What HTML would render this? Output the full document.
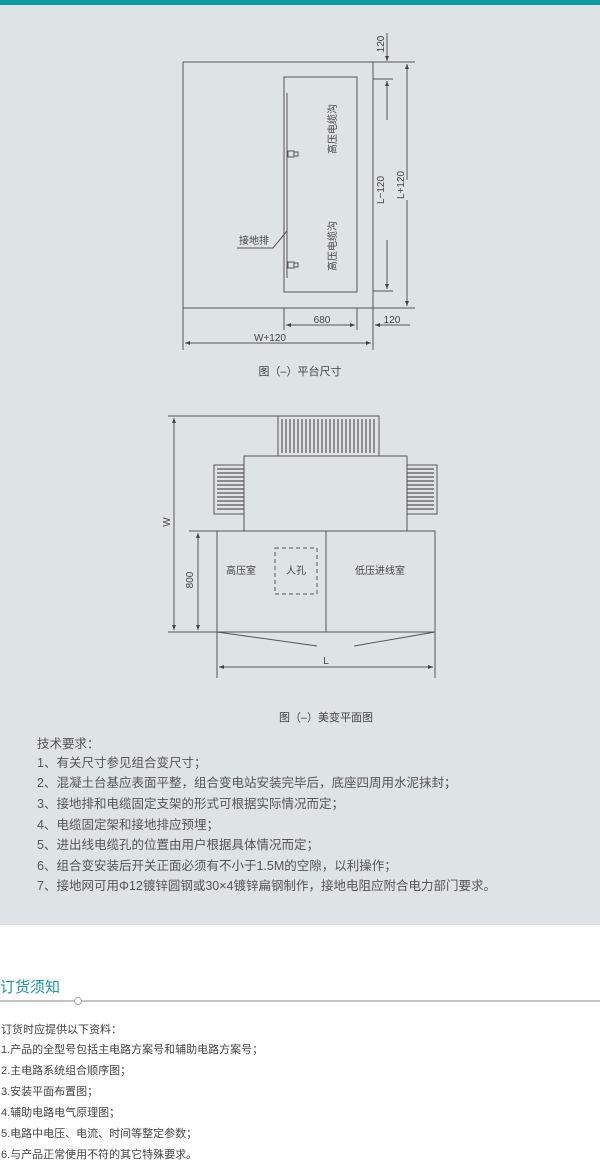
<!DOCTYPE html>
<html><head><meta charset="utf-8"><style>
html,body{margin:0;padding:0;background:#fff;}
body{width:600px;height:1159px;position:relative;overflow:hidden;font-family:"Liberation Sans","Noto Sans CJK SC",sans-serif;}
#panel{position:absolute;left:0;top:0;width:600px;height:925px;background:#dee3e6;}
#bar{position:absolute;left:0;top:0;width:600px;height:5px;background:#0e9aa0;}
.t{position:absolute;left:37px;font-size:12.5px;color:#555;white-space:nowrap;line-height:14px;}
.o{position:absolute;left:1px;font-size:11px;color:#444;white-space:nowrap;line-height:14px;}
</style></head><body>
<div id="panel"></div><div id="bar"></div>
<svg width="600" height="925" style="position:absolute;left:0;top:0" xmlns="http://www.w3.org/2000/svg">
<defs>
<marker id="a" markerWidth="6" markerHeight="6" refX="5" refY="3" orient="auto"><path d="M0,1 L5,3 L0,5z" fill="#444"/></marker>
</defs>
<g stroke="#555" stroke-width="1" fill="none">
<line x1="183" y1="62" x2="415" y2="62"/>
<line x1="183" y1="308" x2="415" y2="308"/>
<line x1="183" y1="62" x2="183" y2="350"/>
<line x1="373" y1="62" x2="373" y2="350"/>
<rect x="284" y="77" width="73" height="215"/>
<line x1="287" y1="93" x2="287" y2="278"/>
<rect x="288" y="151" width="6" height="6"/><rect x="294" y="152" width="4" height="4"/>
<rect x="288" y="262" width="6" height="6"/><rect x="294" y="263" width="4" height="4"/>
<line x1="373" y1="79" x2="393" y2="79"/>
<line x1="373" y1="291" x2="393" y2="291"/>
<line x1="387" y1="33" x2="387" y2="61" marker-end="url(#a)"/>
<line x1="387" y1="120" x2="387" y2="81" marker-end="url(#a)"/>
<line x1="387" y1="240" x2="387" y2="289" marker-end="url(#a)"/>
<line x1="407" y1="180" x2="407" y2="64" marker-end="url(#a)"/>
<line x1="407" y1="200" x2="407" y2="306" marker-end="url(#a)"/>
<line x1="284" y1="308" x2="284" y2="330"/>
<line x1="357" y1="308" x2="357" y2="330"/>
<line x1="320" y1="325" x2="286" y2="325" marker-end="url(#a)"/>
<line x1="320" y1="325" x2="355" y2="325" marker-end="url(#a)"/>
<line x1="410" y1="325" x2="375" y2="325" marker-end="url(#a)"/>
<line x1="270" y1="343" x2="185" y2="343" marker-end="url(#a)"/>
<line x1="270" y1="343" x2="371" y2="343" marker-end="url(#a)"/>
<polyline points="237,248 273,248 287,231"/>
<line x1="168" y1="416" x2="379" y2="416"/>
<rect x="278" y="416" width="101" height="40"/>
<rect x="244" y="456" width="163" height="75"/>
<rect x="214" y="465" width="30" height="49"/>
<rect x="407" y="465" width="30" height="49"/>
<rect x="217" y="531" width="218" height="101"/>
<line x1="326" y1="531" x2="326" y2="632"/>
<line x1="189" y1="531" x2="217" y2="531"/>
<line x1="168" y1="632" x2="217" y2="632"/>
<rect x="275" y="548" width="42" height="46" stroke-dasharray="4,3"/>
<line x1="174" y1="520" x2="174" y2="418" marker-end="url(#a)"/>
<line x1="174" y1="520" x2="174" y2="630" marker-end="url(#a)"/>
<line x1="198" y1="580" x2="198" y2="533" marker-end="url(#a)"/>
<line x1="198" y1="580" x2="198" y2="630" marker-end="url(#a)"/>
<line x1="217" y1="632" x2="217" y2="678"/>
<line x1="435" y1="632" x2="435" y2="678"/>
<line x1="217" y1="632" x2="317" y2="646"/>
<line x1="435" y1="632" x2="354" y2="646"/>
<line x1="326" y1="667" x2="219" y2="667" marker-end="url(#a)"/>
<line x1="326" y1="667" x2="433" y2="667" marker-end="url(#a)"/>
</g>
<g stroke="#555" stroke-width="1.2">
<path d="M282,419V453M286,419V453M290,419V453M294,419V453M298,419V453M302,419V453M306,419V453M310,419V453M314,419V453M318,419V453M322,419V453M326,419V453M330,419V453M334,419V453M338,419V453M342,419V453M346,419V453M350,419V453M354,419V453M358,419V453M362,419V453M366,419V453M370,419V453M374,419V453"/>
<path d="M217,469H244M217,473H244M217,477H244M217,481H244M217,485H244M217,489H244M217,493H244M217,497H244M217,501H244M217,505H244M217,509H244"/>
<path d="M407,469H434M407,473H434M407,477H434M407,481H434M407,485H434M407,489H434M407,493H434M407,497H434M407,501H434M407,505H434M407,509H434"/>
</g>
<g font-family="Liberation Sans, Noto Sans CJK SC, sans-serif" font-size="10" fill="#444">
<text transform="translate(336,129) rotate(-90)" text-anchor="middle">高压电缆沟</text>
<text transform="translate(336,246) rotate(-90)" text-anchor="middle">高压电缆沟</text>
<text transform="translate(384,190) rotate(-90)" text-anchor="middle">L−120</text>
<text transform="translate(404,185) rotate(-90)" text-anchor="middle">L+120</text>
<text transform="translate(384,44) rotate(-90)" text-anchor="middle">120</text>
<text x="322" y="323" text-anchor="middle">680</text>
<text x="392" y="323" text-anchor="middle">120</text>
<text x="270" y="341" text-anchor="middle">W+120</text>
<text x="254" y="244" text-anchor="middle">接地排</text>
<text x="300" y="375" text-anchor="middle" font-size="11">图（–）平台尺寸</text>
<text transform="translate(170,522) rotate(-90)" text-anchor="middle">W</text>
<text transform="translate(193,580) rotate(-90)" text-anchor="middle">800</text>
<text x="241" y="574" text-anchor="middle">高压室</text>
<text x="296" y="574" text-anchor="middle">人孔</text>
<text x="380" y="574" text-anchor="middle">低压进线室</text>
<text x="326" y="664" text-anchor="middle">L</text>
<text x="326" y="721" text-anchor="middle" font-size="11">图（–）美变平面图</text>
</g>
</svg>
<div class="t" style="top:737px">技术要求：</div>
<div class="t" style="top:756px">1、有关尺寸参见组合变尺寸；</div>
<div class="t" style="top:776px">2、混凝土台基应表面平整，组合变电站安装完毕后，底座四周用水泥抹封；</div>
<div class="t" style="top:797px">3、接地排和电缆固定支架的形式可根据实际情况而定；</div>
<div class="t" style="top:818px">4、电缆固定架和接地排应预埋；</div>
<div class="t" style="top:838px">5、进出线电缆孔的位置由用户根据具体情况而定；</div>
<div class="t" style="top:859px">6、组合变安装后开关正面必须有不小于1.5M的空隙，以利操作；</div>
<div class="t" style="top:879px">7、接地网可用Φ12镀锌圆钢或30×4镀锌扁钢制作，接地电阻应附合电力部门要求。</div>
<div style="position:absolute;left:0;top:979px;font-size:15px;color:#1a9aa0;line-height:18px;">订货须知</div>
<div style="position:absolute;left:0;top:1000px;width:600px;height:2px;background:#c4c4c4;"></div>
<div style="position:absolute;left:74px;top:997px;width:6px;height:6px;border:1px solid #aaa;border-radius:50%;background:#fff;"></div>
<div class="o" style="top:1023px">订货时应提供以下资料：</div>
<div class="o" style="top:1043px">1.产品的全型号包括主电路方案号和辅助电路方案号；</div>
<div class="o" style="top:1064px">2.主电路系统组合顺序图；</div>
<div class="o" style="top:1085px">3.安装平面布置图；</div>
<div class="o" style="top:1106px">4.辅助电路电气原理图；</div>
<div class="o" style="top:1127px">5.电路中电压、电流、时间等整定参数；</div>
<div class="o" style="top:1148px">6.与产品正常使用不符的其它特殊要求。</div>
</body></html>
